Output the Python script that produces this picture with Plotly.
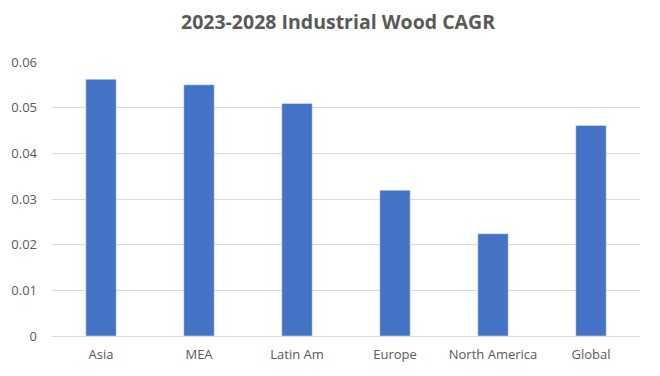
import plotly.graph_objects as go

categories = ["Asia", "MEA", "Latin Am", "Europe", "North America", "Global"]
cagr = [0.0562, 0.0550, 0.0509, 0.0319, 0.0224, 0.0461]
y_ticks = [0, 0.01, 0.02, 0.03, 0.04, 0.05, 0.06]
y_tick_labels = ["0", "0.01", "0.02", "0.03", "0.04", "0.05", "0.06"]

fig = go.Figure(go.Bar(x=categories, y=cagr, marker_color="#4472C4", width=0.31))

fig.update_layout(
    width=660, height=376,
    margin=dict(l=44, r=28, t=54, b=48),
    paper_bgcolor="white", plot_bgcolor="white",
    title=dict(text="<b>2023-2028 Industrial Wood CAGR</b>", x=0.5, xanchor="center",
               y=0.963, yanchor="middle",
               font=dict(family="Open Sans", size=19.5, color="#595959")),
    font=dict(family="Open Sans", size=13, color="#595959"),
    showlegend=False,
)
fig.update_xaxes(showgrid=False, showline=True, linecolor="#D9D9D9", linewidth=1,
                 automargin=False, ticks="", ticklabelstandoff=6,
                 tickfont=dict(size=13, color="#595959"))
fig.update_yaxes(range=[0, 0.06], tickvals=y_ticks, ticktext=y_tick_labels,
                 showgrid=True, gridcolor="#D9D9D9", gridwidth=1, zeroline=False,
                 automargin=False, ticks="", ticklabelstandoff=14,
                 tickfont=dict(size=13, color="#595959"))

fig.write_html("out.html")
